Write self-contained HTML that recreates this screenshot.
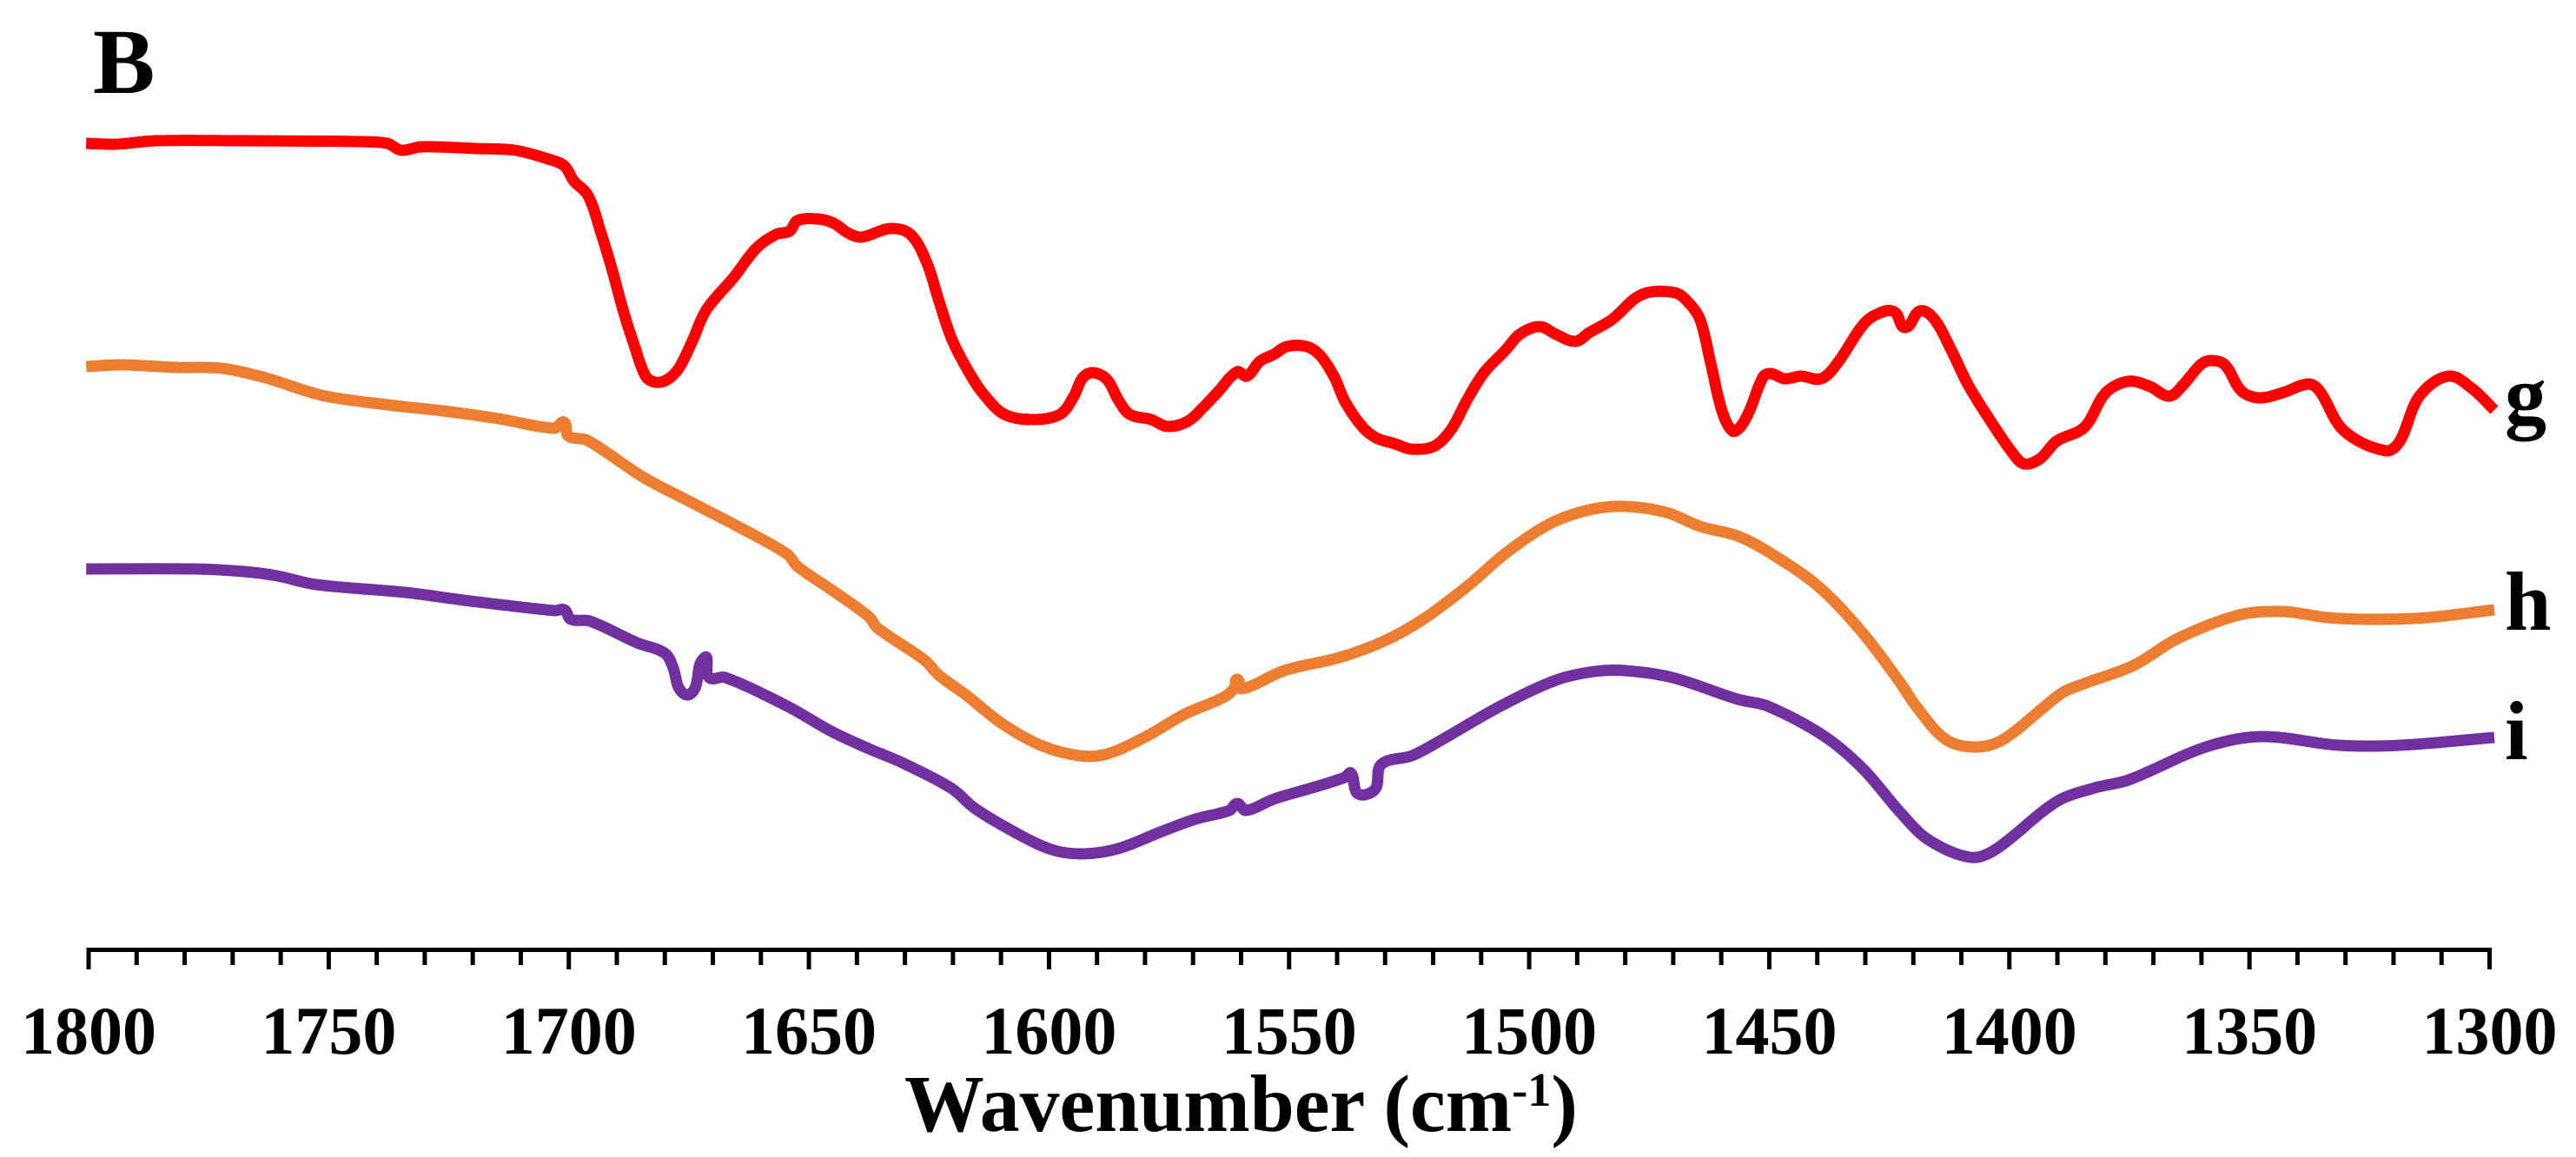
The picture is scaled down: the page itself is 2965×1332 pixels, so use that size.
<!DOCTYPE html>
<html lang="en">
<head>
<meta charset="utf-8">
<title>FTIR spectra B</title>
<style>
html,body{margin:0;padding:0;background:#fff;width:2965px;height:1332px;overflow:hidden}
svg{display:block}
text{font-family:"Liberation Serif","Times New Roman",serif;font-weight:bold;fill:#000}
</style>
</head>
<body>
<svg id="chart" xmlns="http://www.w3.org/2000/svg" width="2965" height="1332" viewBox="0 0 2965 1332">
  <rect x="0" y="0" width="2965" height="1332" fill="#ffffff"/>
  <text x="107" y="107" font-size="107">B</text>
  <g id="series-layer"></g>
  <g id="axis-layer"></g>
  <text x="2883" y="487" font-size="96">g</text>
  <text x="2883" y="725" font-size="96">h</text>
  <text x="2883" y="874" font-size="96">i</text>
  <text x="1041" y="1302" font-size="93" textLength="775" lengthAdjust="spacingAndGlyphs">Wavenumber (cm<tspan dy="-29" font-size="55">-1</tspan><tspan dy="29">)</tspan></text>
</svg>
<script>
const tickLabels = [1800,1750,1700,1650,1600,1550,1500,1450,1400,1350,1300];
const minorTickStep = 10;

const gWavenumbers = [1800.5,1794.2,1786.1,1767.6,1743.4,1737.8,1734.9,1730.7,1719.3,1711.2,1704.3,1700.9,1699.0,1696.0,1693.3,1690.9,1688.7,1686.4,1684.0,1682.0,1679.5,1677.1,1674.3,1671.4,1665.6,1661.0,1656.9,1654.0,1652.4,1648.2,1644.8,1641.9,1639.0,1633.0,1628.8,1625.4,1623.0,1620.2,1616.2,1613.3,1609.3,1603.5,1597.7,1594.8,1593.0,1590.8,1587.9,1585.6,1583.2,1578.7,1575.3,1571.1,1567.7,1564.8,1560.8,1558.8,1556.1,1553.2,1550.5,1546.3,1543.4,1540.5,1538.4,1534.8,1531.9,1527.9,1524.6,1519.9,1516.3,1512.9,1509.4,1504.9,1502.0,1497.8,1494.4,1490.4,1487.5,1482.8,1476.5,1469.6,1466.7,1464.4,1462.2,1459.9,1457.7,1456.1,1454.2,1451.3,1449.7,1446.8,1443.4,1439.2,1435.8,1430.0,1425.8,1423.7,1421.7,1418.6,1415.7,1412.1,1408.6,1404.1,1399.4,1396.9,1393.6,1390.2,1384.4,1379.9,1375.2,1370.7,1366.7,1363.8,1360.2,1358.0,1355.1,1351.7,1348.0,1343.0,1337.7,1335.4,1330.3,1321.6,1318.7,1314.6,1308.6,1303.7,1299.0];
const gValues = [92.8,92.7,93.1,93.1,93.0,92.8,92.0,92.4,92.2,92.0,91.0,90.2,88.5,86.8,82.5,78.1,73.6,69.6,66.0,65.3,65.6,66.9,70.0,73.6,77.4,80.7,82.3,82.7,83.9,84.1,83.6,82.5,82.0,83.0,82.3,79.0,74.8,70.2,66.0,63.7,61.6,61.0,61.6,63.7,65.8,66.4,65.6,63.3,61.6,61.0,60.2,60.8,62.5,64.2,66.5,66.0,67.7,68.5,69.4,69.4,68.3,65.8,63.1,60.2,58.9,58.2,57.6,57.9,59.8,63.3,66.4,69.0,70.8,71.7,70.8,70.0,71.0,72.5,75.4,75.6,74.4,72.5,67.5,62.1,59.7,60.1,61.9,65.9,66.3,65.7,66.0,65.7,67.5,72.2,73.5,73.3,71.6,73.5,72.6,69.0,65.0,61.0,57.2,55.9,56.5,58.5,60.1,64.1,65.4,64.8,63.7,65.0,67.3,67.8,67.3,64.3,63.5,64.1,65.1,64.3,59.7,57.4,58.5,63.7,66.0,64.6,62.1];

const hWavenumbers = [1800.5,1793.1,1781.5,1772.3,1763.1,1751.5,1737.8,1726.2,1714.6,1703.0,1701.0,1700.1,1696.1,1684.6,1675.3,1663.8,1654.5,1652.4,1645.3,1637.5,1635.7,1625.9,1623.0,1617.3,1609.8,1601.7,1593.7,1587.9,1579.8,1571.7,1563.7,1561.4,1560.8,1559.9,1551.0,1539.5,1530.2,1522.1,1512.9,1504.9,1495.7,1487.5,1480.1,1471.4,1464.4,1456.6,1450.3,1439.8,1430.5,1422.6,1419.7,1413.3,1407.0,1401.2,1389.1,1384.4,1374.1,1364.9,1352.2,1343.0,1333.7,1324.5,1312.9,1299.0];
const hValues = [67.1,67.3,67.0,66.9,65.8,63.8,62.7,62.0,61.1,60.0,60.7,59.1,58.6,54.4,51.7,48.4,45.5,44.1,41.4,38.3,37.0,33.3,31.6,29.3,26.0,23.5,22.3,22.5,24.5,27.1,29.0,30.1,31.1,30.0,32.1,33.6,35.5,38.0,41.8,45.6,49.0,50.6,51.0,50.3,48.7,47.6,45.8,41.8,36.4,30.6,28.2,24.2,23.3,24.2,29.5,30.6,32.7,35.8,38.5,38.9,38.2,38.0,38.2,39.1];

const iWavenumbers = [1800.5,1778.1,1767.6,1760.7,1752.6,1734.1,1720.4,1703.0,1700.9,1699.6,1695.6,1685.8,1680.0,1678.2,1677.1,1675.3,1673.7,1671.7,1670.8,1667.4,1654.5,1645.3,1637.5,1630.6,1620.2,1615.6,1607.5,1599.5,1593.0,1585.6,1576.4,1569.5,1562.4,1560.8,1559.0,1553.2,1545.2,1538.4,1537.1,1536.0,1534.2,1531.9,1530.8,1524.4,1518.6,1506.0,1494.4,1486.4,1480.1,1470.2,1456.6,1450.3,1438.7,1430.5,1422.6,1416.8,1408.1,1402.9,1390.2,1382.2,1375.2,1359.1,1347.5,1331.4,1318.7,1299.0];
const iValues = [43.8,43.8,43.5,43.0,42.0,41.1,40.1,39.0,39.1,38.0,37.8,35.3,34.1,32.3,30.1,29.3,30.1,33.6,31.3,31.3,28.0,25.1,23.1,21.5,18.5,16.3,13.6,11.5,11.0,11.6,13.6,15.0,16.0,16.8,16.0,17.3,18.6,19.8,20.3,18.1,17.8,18.6,21.3,22.3,24.0,28.0,31.0,32.0,32.1,31.3,28.8,28.0,24.6,20.8,15.7,12.6,10.6,11.5,17.0,18.6,19.5,23.3,24.5,23.5,23.5,24.4];

const SVGNS = 'http://www.w3.org/2000/svg';
const plotLeft = 102, plotRight = 2865.5, axisY = 1093.5;
const domainLeft = tickLabels[0], domainRight = tickLabels[tickLabels.length - 1];

function xScale(w) { return plotLeft + (domainLeft - w) * (plotRight - plotLeft) / (domainLeft - domainRight); }
function yScale(v) { return 1093 - v * 10; }

function unitTangent(a, b) {
  const dx = b[0] - a[0], dy = b[1] - a[1];
  const len = Math.hypot(dx, dy) || 1;
  return [dx / len, dy / len];
}

function smoothPath(wn, vals) {
  const pts = wn.map((w, i) => [xScale(w), yScale(vals[i])]);
  let d = 'M' + pts[0][0].toFixed(1) + ' ' + pts[0][1].toFixed(1);
  for (let i = 0; i < pts.length - 1; i++) {
    const p0 = pts[Math.max(i - 1, 0)], p1 = pts[i], p2 = pts[i + 1], p3 = pts[Math.min(i + 2, pts.length - 1)];
    const t1 = unitTangent(p0, p2), t2 = unitTangent(p1, p3);
    const seg = Math.hypot(p2[0] - p1[0], p2[1] - p1[1]) * 0.33;
    d += 'C' + (p1[0] + t1[0] * seg).toFixed(1) + ' ' + (p1[1] + t1[1] * seg).toFixed(1) + ' ' + (p2[0] - t2[0] * seg).toFixed(1) + ' ' + (p2[1] - t2[1] * seg).toFixed(1) + ' ' + p2[0].toFixed(1) + ' ' + p2[1].toFixed(1);
  }
  return d;
}

const seriesLayer = document.getElementById('series-layer');

const lineG = document.createElementNS(SVGNS, 'path');


lineG.setAttribute('d', smoothPath(gWavenumbers, gValues));
lineG.setAttribute('stroke', '#ff0000');
seriesLayer.appendChild(lineG);

const lineH = document.createElementNS(SVGNS, 'path');


lineH.setAttribute('d', smoothPath(hWavenumbers, hValues));
lineH.setAttribute('stroke', '#ed7d31');
seriesLayer.appendChild(lineH);

const lineI = document.createElementNS(SVGNS, 'path');


lineI.setAttribute('d', smoothPath(iWavenumbers, iValues));
lineI.setAttribute('stroke', '#7030a0');
seriesLayer.appendChild(lineI);

[lineG, lineH, lineI].forEach(function (p) {
  p.setAttribute('fill', 'none');
  p.setAttribute('stroke-width', '13');
  p.setAttribute('stroke-linejoin', 'round');
  p.setAttribute('stroke-linecap', 'butt');
});

const axisLayer = document.getElementById('axis-layer');

const axisLine = document.createElementNS(SVGNS, 'line');


axisLine.setAttribute('x1', plotLeft - 2.5);
axisLine.setAttribute('x2', plotRight + 2.5);
axisLine.setAttribute('y1', axisY);
axisLine.setAttribute('y2', axisY);
axisLine.setAttribute('stroke', '#000');
axisLine.setAttribute('stroke-width', '5');
axisLayer.appendChild(axisLine);

for (let w = domainLeft; w >= domainRight; w -= minorTickStep) {
  const isMajor = tickLabels.indexOf(w) >= 0;
  const tick = document.createElementNS(SVGNS, 'line');
  
  
  tick.setAttribute('x1', xScale(w));
  tick.setAttribute('x2', xScale(w));
  tick.setAttribute('y1', axisY);
  tick.setAttribute('y2', isMajor ? 1116 : 1111);
  tick.setAttribute('stroke', '#000');
  tick.setAttribute('stroke-width', '5');
  axisLayer.appendChild(tick);
}

tickLabels.forEach(function (w) {
  const label = document.createElementNS(SVGNS, 'text');
  
  
  label.setAttribute('x', xScale(w));
  label.setAttribute('y', 1213);
  label.setAttribute('font-size', '78');
  label.setAttribute('text-anchor', 'middle');
  label.textContent = String(w);
  axisLayer.appendChild(label);
});
</script>
</body>
</html>
